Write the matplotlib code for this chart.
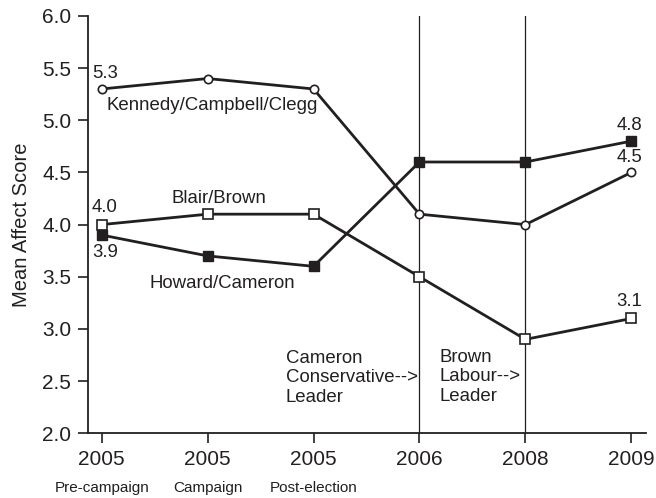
import numpy as np
import matplotlib.pyplot as plt

plt.rcParams['font.family'] = ['Liberation Sans', 'DejaVu Sans']

periods = ['2005', '2005', '2005', '2006', '2008', '2009']
subs = ['Pre-campaign', 'Campaign', 'Post-election']
kennedy = [5.3, 5.4, 5.3, 4.1, 4.0, 4.5]
blair = [4.0, 4.1, 4.1, 3.5, 2.9, 3.1]
howard = [3.9, 3.7, 3.6, 4.6, 4.6, 4.8]

ink = '#231f20'
x = np.arange(len(periods))

fig = plt.figure(figsize=(6.56, 4.98), dpi=100)
ax = fig.add_axes([0.134, 0.130, 0.851, 0.838])

ax.axvline(3, color=ink, lw=0.9, zorder=1)
ax.axvline(4, color=ink, lw=0.9, zorder=1)

ax.plot(x, kennedy, color=ink, lw=2, marker='o', ms=6, mfc='white',
        mec=ink, mew=1.2, zorder=3)
ax.plot(x, blair, color=ink, lw=2, marker='s', ms=7.3, mfc='white',
        mec=ink, mew=1.2, zorder=3)
ax.plot(x, howard, color=ink, lw=2, marker='s', ms=7.3, mfc=ink,
        mec=ink, zorder=4)

ax.set_xlim(-0.13, 5.14)
ax.set_ylim(2.0, 6.0)
yt = np.arange(2.0, 6.01, 0.5)
ax.set_yticks(yt)
ax.set_yticklabels(['%.1f' % v for v in yt])
ax.set_xticks(x)
ax.set_xticklabels(periods)
ax.tick_params(labelsize=15, colors=ink, length=7, width=1.2, pad=5)
for s in ['top', 'right']:
    ax.spines[s].set_visible(False)
for s in ['left', 'bottom']:
    ax.spines[s].set_linewidth(1.3)
    ax.spines[s].set_color(ink)
ax.set_ylabel('Mean Affect Score', fontsize=14.5, color=ink, labelpad=8)

for i, s in enumerate(subs):
    ax.text(i, -0.13, s, transform=ax.get_xaxis_transform(), ha='center',
            va='center', fontsize=11, color=ink)

fs = 13.4
kw = dict(fontsize=fs, color=ink, va='center')
ax.text(0.03, 5.45, '5.3', ha='center', **kw)
ax.text(1.04, 5.14, 'Kennedy/Campbell/Clegg', ha='center', **kw)
ax.text(1.11, 4.25, 'Blair/Brown', ha='center', **kw)
ax.text(0.03, 4.16, '4.0', ha='center', **kw)
ax.text(0.03, 3.73, '3.9', ha='center', **kw)
ax.text(1.14, 3.44, 'Howard/Cameron', ha='center', **kw)
ax.text(1.736, 2.53, 'Cameron\nConservative-->\nLeader', ha='left',
        linespacing=1.2, **kw)
ax.text(3.19, 2.54, 'Brown\nLabour-->\nLeader', ha='left',
        linespacing=1.2, **kw)
ax.text(4.98, 4.95, '4.8', ha='center', **kw)
ax.text(4.98, 4.64, '4.5', ha='center', **kw)
ax.text(4.98, 3.26, '3.1', ha='center', **kw)

fig.savefig('out.png', dpi=100)
